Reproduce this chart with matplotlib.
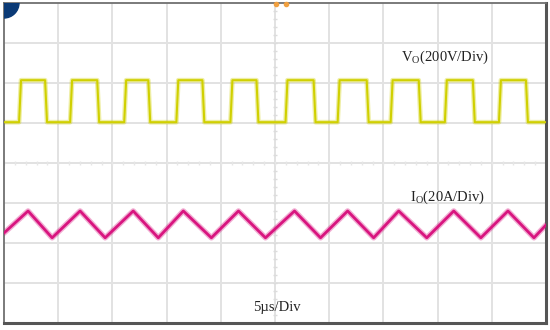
"""
Scope capture: output voltage Vo (square) and output current Io (triangle)
"""

import numpy as np
import matplotlib.pyplot as plt
from matplotlib.patches import Ellipse

plt.rcParams['mathtext.fontset'] = 'custom'
plt.rcParams['mathtext.rm'] = 'Liberation Serif'

# screen: 10 div x 5 us horizontally, 8 div vertically (centre = 0)
n_xdiv = 10
n_ydiv = 8
us_per_div = 5.0

# Vo square wave (levels in div, edge times in us)
vo_high = 2.07
vo_low = 1.02
vo_rise = [1.39, 6.10, 11.09, 15.90, 20.89, 25.97, 30.78, 35.67, 40.67, 45.66]
vo_fall = [3.79, 8.60, 13.31, 18.30, 23.29, 28.56, 33.46, 38.26, 43.25, 48.15]

# Io triangle wave (turning points)
io_start = -1.75
io_end = -1.55
io_peak = -1.20
io_trough = -1.87
io_peak_t = [2.22, 7.02, 11.92, 16.54, 21.63, 26.80, 31.70, 36.41, 41.49, 46.49]
io_trough_t = [4.44, 9.33, 14.23, 19.13, 24.12, 29.20, 34.10, 39.00, 43.99, 48.89]

labels = ["V$_{\\rm O}$(200V/Div)", "I$_{\\rm O}$(20A/Div)", "5\u00b5s/Div"]

YELLOW = '#d0d000'
MAGENTA = '#d8157f'
GRID = '#e2e2e2'


def square_vertices(t_end, edge=0.18):
    """Corner points of the square trace."""
    pts = [(0.0, vo_low)]
    for r, f in zip(vo_rise, vo_fall):
        pts += [(r, vo_low), (r + edge, vo_high), (f, vo_high), (f + edge, vo_low)]
    pts.append((t_end, vo_low))
    return np.array(pts).T


def triangle_vertices(t_end):
    """Corner points of the triangle trace."""
    pts = [(0.0, io_start)]
    pts += [(t, io_peak) for t in io_peak_t]
    pts += [(t, io_trough) for t in io_trough_t]
    pts.sort()
    pts.append((t_end, io_end))
    return np.array(pts).T


def main():
    t_end = n_xdiv * us_per_div
    fig = plt.figure(figsize=(5.5, 3.3), dpi=100)
    ax = fig.add_axes([4 / 550, 7 / 330, 542 / 550, 320 / 330])
    ax.set_xlim(0, t_end)
    ax.set_ylim(-n_ydiv / 2, n_ydiv / 2)

    # graticule
    for k in range(1, n_xdiv):
        ax.axvline(k * us_per_div, color=GRID, lw=1.4, zorder=0)
    for k in range(1, n_ydiv):
        ax.axhline(k - n_ydiv / 2, color=GRID, lw=1.4, zorder=0)
    # faint ticks on the centre cross
    yt = np.arange(-n_ydiv / 2, n_ydiv / 2, 0.2)
    ax.plot(np.full_like(yt, t_end / 2), yt, ls='none', marker='_',
            ms=3, color='#dcdcdc', zorder=0)
    xt = np.arange(0, t_end, us_per_div / 5)
    ax.plot(xt, np.zeros_like(xt), ls='none', marker='|',
            ms=3, color='#e6e6e6', zorder=0)

    ts, vs = square_vertices(t_end)
    ax.plot(ts, vs, color=YELLOW, lw=3.4, alpha=0.35, zorder=2)
    ax.plot(ts, vs, color=YELLOW, lw=1.5, zorder=3)

    ti, iv = triangle_vertices(t_end)
    ax.plot(ti, iv, color=MAGENTA, lw=4.0, alpha=0.35, zorder=2)
    ax.plot(ti, iv, color=MAGENTA, lw=2.0, zorder=3)

    ax.text(40.7, 2.65, labels[0], ha='center', va='center',
            family='Liberation Serif', fontsize=10.5, color='#222222')
    ax.text(40.9, -0.85, labels[1], ha='center', va='center',
            family='Liberation Serif', fontsize=10.5, color='#222222')
    ax.text(25.2, -3.6, labels[2], ha='center', va='center',
            family='Liberation Serif', fontsize=10.5, color='#222222')

    # blue corner marker and orange trigger marks
    ax.add_patch(Ellipse((0, 1), 2 * 15 / 542, 2 * 15 / 320,
                         transform=ax.transAxes, color='#0b3a76', zorder=4))
    ax.plot([25.05, 25.97], [3.97, 3.97], ls='none', marker='o', ms=3,
            color='#f0a040', zorder=5, clip_on=False)

    ax.set_xticks([])
    ax.set_yticks([])
    for side in ['left', 'top']:
        ax.spines[side].set_color('#707070')
        ax.spines[side].set_linewidth(1.3)
    for side in ['right', 'bottom']:
        ax.spines[side].set_color('#555555')
        ax.spines[side].set_linewidth(2.2)

    fig.savefig('out.png', dpi=100)


main()
